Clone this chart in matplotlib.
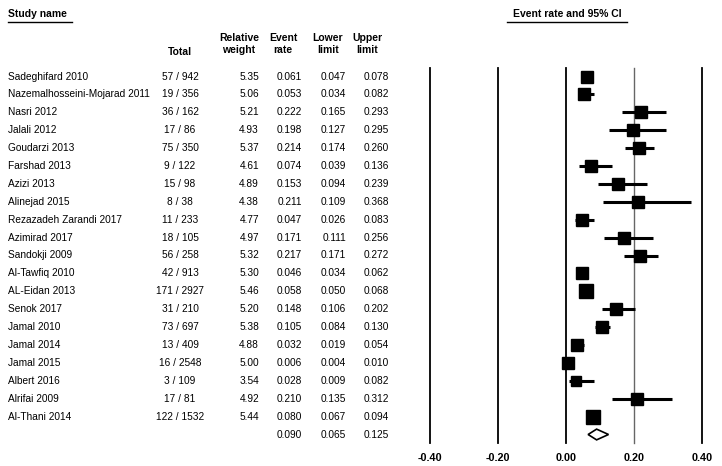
import numpy as np
import matplotlib
matplotlib.use('Agg')
import matplotlib.pyplot as plt
from matplotlib.transforms import blended_transform_factory
from matplotlib.lines import Line2D

plt.rcParams['font.family'] = ['Liberation Sans', 'DejaVu Sans']

studies = ['Sadeghifard 2010', 'Nazemalhosseini-Mojarad 2011', 'Nasri 2012', 'Jalali 2012',
           'Goudarzi 2013', 'Farshad 2013', 'Azizi 2013', 'Alinejad 2015',
           'Rezazadeh Zarandi 2017', 'Azimirad 2017', 'Sandokji 2009', 'Al-Tawfiq 2010',
           'AL-Eidan 2013', 'Senok 2017', 'Jamal 2010', 'Jamal 2014', 'Jamal 2015',
           'Albert 2016', 'Alrifai 2009', 'Al-Thani 2014']
events = [57, 19, 36, 17, 75, 9, 15, 8, 11, 18, 56, 42, 171, 31, 73, 13, 16, 3, 17, 122]
totals = [942, 356, 162, 86, 350, 122, 98, 38, 233, 105, 258, 913, 2927, 210, 697, 409, 2548, 109, 81, 1532]
weights = [5.35, 5.06, 5.21, 4.93, 5.37, 4.61, 4.89, 4.38, 4.77, 4.97, 5.32, 5.30, 5.46, 5.20,
           5.38, 4.88, 5.00, 3.54, 4.92, 5.44]
rates = [0.061, 0.053, 0.222, 0.198, 0.214, 0.074, 0.153, 0.211, 0.047, 0.171, 0.217, 0.046,
         0.058, 0.148, 0.105, 0.032, 0.006, 0.028, 0.210, 0.080]
lower = [0.047, 0.034, 0.165, 0.127, 0.174, 0.039, 0.094, 0.109, 0.026, 0.111, 0.171, 0.034,
         0.050, 0.106, 0.084, 0.019, 0.004, 0.009, 0.135, 0.067]
upper = [0.078, 0.082, 0.293, 0.295, 0.260, 0.136, 0.239, 0.368, 0.083, 0.256, 0.272, 0.062,
         0.068, 0.202, 0.130, 0.054, 0.010, 0.082, 0.312, 0.094]
pooled = (0.090, 0.065, 0.125)
xticks = [-0.40, -0.20, 0.00, 0.20, 0.40]

W, H = 722, 466
fig = plt.figure(figsize=(W / 100, H / 100), dpi=100)
ax = fig.add_axes([430 / W, 1 - 443 / H, 272 / W, 375 / H])
n = len(studies)
row0, step = 76.5, 17.9
ax.set_ylim((443 - row0) / step, (68 - row0) / step)
ax.set_xlim(-0.4, 0.4)
for s in ax.spines.values():
    s.set_visible(False)
ax.set_yticks([])
ax.set_xticks(xticks)
ax.set_xticklabels(['%.2f' % t for t in xticks], fontweight='bold', fontsize=7.8)
ax.tick_params(axis='x', length=0, pad=7)

for t in xticks:
    ax.axvline(t, color='#666666' if abs(t - 0.2) < 1e-9 else 'black',
               lw=1.0 if abs(t - 0.2) < 1e-9 else 1.3, clip_on=False, zorder=1)

y = np.arange(n)
for i in range(n):
    ax.plot([lower[i], upper[i]], [y[i], y[i]], color='black', lw=2.2, solid_capstyle='butt', zorder=2)
    ms = (6 + 1.3 * weights[i]) / 1.389
    ax.plot(rates[i], y[i], marker='s', color='black', markersize=ms, zorder=3)

h = 0.3
pe, pl, pu = pooled
ax.fill([pl, pe, pu, pe], [n, n - h, n, n + h], facecolor='white', edgecolor='black', lw=1.2, zorder=3)

tr = blended_transform_factory(fig.transFigure, ax.transData)
fs = 7.3
for i in range(n):
    ax.text(8 / W, y[i], studies[i], transform=tr, fontsize=fs, va='center', ha='left')
    ax.text(180 / W, y[i], '%d / %d' % (events[i], totals[i]), transform=tr, fontsize=fs, va='center', ha='center')
    ax.text(259 / W, y[i], '%.2f' % weights[i], transform=tr, fontsize=fs, va='center', ha='right')
    ax.text(302 / W, y[i], '%.3f' % rates[i], transform=tr, fontsize=fs, va='center', ha='right')
    ax.text(346 / W, y[i], '%.3f' % lower[i], transform=tr, fontsize=fs, va='center', ha='right')
    ax.text(389 / W, y[i], '%.3f' % upper[i], transform=tr, fontsize=fs, va='center', ha='right')
for x, v in zip([302, 346, 389], pooled):
    ax.text(x / W, n, '%.3f' % v, transform=tr, fontsize=fs, va='center', ha='right')

# headers
hfs = 7.5
fig.text(8 / W, 1 - 14 / H, 'Study name', fontsize=hfs, fontweight='bold', va='center', ha='left')
fig.add_artist(Line2D([8 / W, 72 / W], [1 - 21.5 / H, 1 - 21.5 / H], color='black', lw=1))
fig.text(567 / W, 1 - 14 / H, 'Event rate and 95% CI', fontsize=hfs, fontweight='bold', va='center', ha='center')
fig.add_artist(Line2D([507 / W, 627 / W], [1 - 21.5 / H, 1 - 21.5 / H], color='black', lw=1))
fig.text(180 / W, 1 - 52 / H, 'Total', fontsize=hfs, fontweight='bold', va='center', ha='center')
for x, lab in zip([239, 283, 328, 367], ['Relative\nweight', 'Event\nrate', 'Lower\nlimit', 'Upper\nlimit']):
    fig.text(x / W, 1 - 44 / H, lab, fontsize=hfs, fontweight='bold', va='center', ha='center',
             linespacing=1.25)

fig.savefig('out.png', dpi=100)
